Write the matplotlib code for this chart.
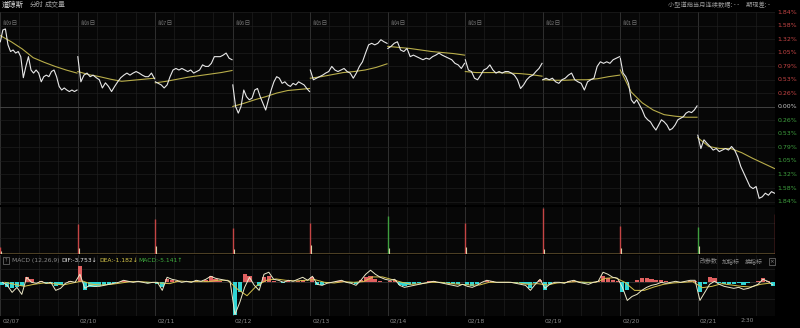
import numpy as np
import matplotlib
matplotlib.use('Agg')
import matplotlib.pyplot as plt
from matplotlib import transforms

plt.rcParams['font.family'] = ['Noto Sans CJK SC', 'DejaVu Sans']

# ---------------- data ----------------
day_labels = ['前9日', '前8日', '前7日', '前6日', '前5日', '前4日', '前3日', '前2日', '前1日']
date_labels = ['02/07', '02/10', '02/11', '02/12', '02/13', '02/14', '02/18', '02/19', '02/20', '02/21']
extra_time_label = '2:30'
extra_time_pos = 9.55  # day index + fraction of session

# price change (%) per day
price_d0 = [1.27, 1.50, 1.52, 1.21, 1.08, 1.11, 1.05, 1.08, 0.98, 0.57, 0.79, 0.98, 0.72, 0.66, 0.72, 0.66,
            0.49, 0.59, 0.62, 0.59, 0.69, 0.72, 0.59, 0.40, 0.33, 0.37, 0.33, 0.30, 0.33, 0.30, 0.33]
price_d1 = [0.98, 0.49, 0.62, 0.66, 0.59, 0.62, 0.57, 0.53, 0.37, 0.47, 0.40, 0.30, 0.40, 0.49, 0.57, 0.62,
            0.66, 0.62, 0.66, 0.69, 0.66, 0.62, 0.59, 0.59, 0.66, 0.55]
price_d2 = [0.49, 0.46, 0.43, 0.37, 0.43, 0.59, 0.72, 0.75, 0.72, 0.75, 0.72, 0.69, 0.72, 0.66, 0.69, 0.72,
            0.82, 0.79, 0.79, 0.85, 0.98, 0.98, 0.98, 1.01, 1.05, 0.95, 0.92]
price_d3 = [0.43, 0.01, -0.12, 0.01, 0.33, 0.20, 0.14, 0.17, 0.33, 0.36, 0.20, 0.07, -0.06, 0.14, 0.33, 0.49,
            0.59, 0.56, 0.46, 0.49, 0.43, 0.40, 0.46, 0.43, 0.49, 0.46, 0.43, 0.36, 0.30]
price_d4 = [0.72, 0.53, 0.56, 0.59, 0.62, 0.66, 0.69, 0.79, 0.72, 0.69, 0.72, 0.75, 0.69, 0.66, 0.56, 0.66,
            0.79, 0.88, 1.05, 1.21, 1.24, 1.21, 1.24, 1.31, 1.27, 1.24]
price_d5 = [1.14, 1.18, 1.24, 1.27, 1.11, 1.08, 1.14, 0.98, 1.01, 0.98, 0.95, 0.92, 0.95, 0.93, 0.98, 1.01,
            1.05, 1.01, 0.98, 0.95, 0.92, 0.85, 0.82, 0.75, 0.85]
price_d6 = [0.92, 0.72, 0.69, 0.56, 0.53, 0.62, 0.72, 0.75, 0.82, 0.72, 0.66, 0.69, 0.66, 0.69, 0.69, 0.66,
            0.62, 0.53, 0.36, 0.43, 0.53, 0.59, 0.62, 0.69, 0.75, 0.85]
price_d7 = [0.53, 0.56, 0.53, 0.56, 0.49, 0.46, 0.53, 0.56, 0.62, 0.66, 0.53, 0.49, 0.46, 0.33, 0.49, 0.53,
            0.56, 0.79, 0.88, 0.85, 0.88, 0.85, 0.92, 0.95, 0.98]
price_d8 = [0.95, 0.66, 0.59, 0.46, 0.14, 0.07, 0.14, 0.04, -0.06, -0.19, -0.25, -0.29, -0.38, -0.45, -0.35,
            -0.25, -0.29, -0.35, -0.45, -0.42, -0.35, -0.25, -0.22, -0.19, -0.12, -0.09, -0.11, -0.06, 0.02]
price_d9 = [-0.55, -0.81, -0.64, -0.71, -0.77, -0.84, -0.81, -0.87, -0.84, -0.81, -0.84, -0.77, -0.84, -0.97,
            -1.16, -1.29, -1.42, -1.55, -1.59, -1.55, -1.78, -1.75, -1.68, -1.72, -1.65, -1.68]
prices = [price_d0, price_d1, price_d2, price_d3, price_d4, price_d5, price_d6, price_d7, price_d8, price_d9]

# average price line (%) per day
avg_d0 = [1.39, 1.27, 1.13, 0.96, 0.87, 0.79, 0.72, 0.66]
avg_d1 = [0.69, 0.63, 0.59, 0.54, 0.50, 0.52, 0.54, 0.56]
avg_d2 = [0.47, 0.50, 0.54, 0.58, 0.61, 0.64, 0.67, 0.71]
avg_d3 = [0.01, 0.07, 0.14, 0.20, 0.27, 0.32, 0.34, 0.36]
avg_d4 = [0.56, 0.59, 0.63, 0.67, 0.69, 0.72, 0.77, 0.84]
avg_d5 = [1.18, 1.16, 1.14, 1.11, 1.08, 1.06, 1.04, 1.01]
avg_d6 = [0.69, 0.67, 0.67, 0.67, 0.66, 0.65, 0.63, 0.60]
avg_d7 = [0.53, 0.52, 0.52, 0.53, 0.53, 0.55, 0.59, 0.62]
avg_d8 = [0.72, 0.29, 0.08, -0.06, -0.15, -0.18, -0.20, -0.20]
avg_d9 = [-0.60, -0.77, -0.81, -0.81, -0.89, -1.00, -1.10, -1.20]
avgs = [avg_d0, avg_d1, avg_d2, avg_d3, avg_d4, avg_d5, avg_d6, avg_d7, avg_d8, avg_d9]

# volume (opening minute of each day, second minute, and closing minute of last day)
vol_open = [0.7, 3.0, 3.5, 2.6, 3.1, 3.8, 3.1, 4.6, 2.8, 2.7]
vol_open_up = [True, True, True, True, True, False, True, True, True, False]
vol_second = [0.3, 0.6, 0.8, 0.5, 0.9, 0.6, 0.7, 0.5, 0.6, 0.8]
vol_last = 4.0

# MACD (16 samples per day)
dif = [0, -4.5, -15, -7.5, -18, 7.5, 0, -1.5, 1.5, -1.5, 0, -12, -9, -1.5, 1.5, 0,
       12, -9, -4.5, -6, -6, -4.5, -3, -1.5, 0, 3, 1.5, 0, 1.5, 0, -1.5, 0,
       0, -12, 7.5, 4.5, 3, 0, 1.5, 0, 3, 1.5, 4.5, 9, 6, 4.5, 3, 1.5,
       -48, -30, -7.5, 7.5, -4.5, -12, 12, 15, 4.5, 3, 0, 3, 1.5, 4.5, 7.5, 3,
       9, -3, -4.5, -1.5, 0, 1.5, 3, 0, -1.5, -4.5, 3, 12, 18, 12, 7.5, 4.5,
       3, 4.5, -4.5, -7.5, -6, -4.5, -3, -1.5, 0, 1.5, 0, -1.5, -3, -4.5, -6, -3,
       -6, -7.5, -4.5, 0, 3, 1.5, 0, 0, 0, 0, -1.5, -3, -4.5, -12, -3, 4.5,
       -9, -3, 0, 0, -1.5, 1.5, 3, 0, -1.5, -3, 0, 1.5, 15, 12, 7.5, 6,
       -7.5, -27, -21, -18, -12, -7.5, -4.5, -3, 0, -1.5, 0, 1.5, 0, 1.5, 3, 3,
       -27, -15, -3, 1.5, -3, -6, -7.5, -9, -7.5, -10.5, -9, -6, -3, 4.5, 1.5, -3.753]
macd_hist = [-4.5, -7.5, -9, -7.5, -6, 7.5, 4.5, 0, 1.5, -1.5, -1.5, -6, -4.5, 0, 1.5, 0,
             25, -12, -7.5, -7.5, -6, -4.5, -3, -1.5, 0, 1.5, 1.5, 0, 0, 0, -1.5, 0,
             -3, -7.5, 4.5, 3, 1.5, 0, 0, 0, 1.5, 0, 3, 9, 4.5, 1.5, 0, 0,
             -49, -15, 12, 9, 0, -6, 7.5, 9, 1.5, 0, -1.5, 1.5, 0, 1.5, 3, 0,
             7.5, -4.5, -4.5, -1.5, 0, 1.5, 1.5, 0, -1.5, -3, 3, 7.5, 9, 4.5, 1.5, 0,
             1.5, 3, -4.5, -6, -4.5, -3, -1.5, 0, 1.5, 1.5, 0, -1.5, -1.5, -3, -3, 0,
             -4.5, -6, -3, 0, 1.5, 1.5, 0, 0, 0, 0, -1.5, -1.5, -3, -9, -1.5, 3,
             -12, -3, 0, 0, -1.5, 1.5, 1.5, 0, -1.5, -1.5, 0, 1.5, 9, 6, 3, 1.5,
             -15, -12, 0, 3, 6, 6, 4.5, 3, 3, 1.5, 0, 0, 0, 0, 1.5, 1.5,
             -15, -3, 7.5, 6, -1.5, -3, -3, -3, -1.5, -4.5, -1.5, 0, 1.5, 6, 1.5, -5.141]
# DEA (8 samples per day)
dea = [0, -3, -6, -3, -1, -2, -4, -1,
       2, -3, -4, -3, -1, 1, 1, 0,
       -1, -2, 2, 1, 1, 1, 3, 3,
       -10, -20, -5, 3, 5, 3, 2, 3,
       4, 0, -1, 1, 0, 1, 8, 8,
       4, 0, -3, -2, 0, 0, -2, -3,
       -4, -4, 0, 0, 0, -1, -3, -2,
       -4, -1, 0, 1, 0, 0, 6, 7,
       0, -12, -12, -7, -3, -1, 0, 1,
       -8, -6, -2, -4, -6, -7, -3, -1.182]

n_days = 10

# ---------------- styling ----------------
BG = '#000000'
PANEL = '#070707'
GRID = '#222222'
DAYSEP = '#363636'
PRICE_C = '#e8e8e8'
AVG_C = '#b8ad4a'
RED = '#c54545'
GREEN = '#3f9f3f'

W, H = 800, 328
fig = plt.figure(figsize=(W / 100, H / 100), dpi=100, facecolor=BG)


def px_axes(x0, y0, x1, y1):
    a = fig.add_axes([x0 / W, 1 - y1 / H, (x1 - x0) / W, (y1 - y0) / H])
    a.set_facecolor(PANEL)
    for s in a.spines.values():
        s.set_visible(False)
    a.set_xticks([])
    a.set_yticks([])
    a.set_xlim(0, n_days)
    return a


def vgrid(a, sub=4):
    for d in range(n_days + 1):
        a.axvline(d, color=DAYSEP, lw=0.6, zorder=0)
        if d < n_days:
            for k in range(1, sub):
                a.axvline(d + k / sub, color=GRID, lw=0.4, zorder=0)


# ---- main price panel ----
ax = px_axes(0, 12, 775, 205)
ax.set_ylim(-1.91, 1.85)
vgrid(ax)
step = 1.842 / 7
levels = np.arange(-7, 8) * step
for lv in levels:
    ax.axhline(lv, color='#4a4a4a' if abs(lv) < 1e-9 else GRID, lw=0.6 if abs(lv) < 1e-9 else 0.4, zorder=0)

for d in range(n_days):
    p = prices[d]
    xs = d + 0.004 + np.arange(len(p)) / (len(p) - 1) * 0.99
    ax.plot(xs, p, color=PRICE_C, lw=0.8, zorder=3)
    a_ = avgs[d]
    xa = d + 0.004 + np.arange(len(a_)) / (len(a_) - 1) * 0.99
    ax.plot(xa, a_, color=AVG_C, lw=0.8, zorder=2)

for d, lab in enumerate(day_labels):
    ax.text(d + 0.035, 1.62, lab, color='#6f6f6f', fontsize=4.3, va='center', ha='left')

# right tick labels
for lv in levels:
    if lv > 1e-9:
        c = RED
    elif lv < -1e-9:
        c = GREEN
    else:
        c = '#c8c8c8'
    ax.text(1.003, lv, f'{abs(lv):.2f}%', transform=transforms.blended_transform_factory(ax.transAxes, ax.transData),
            color=c, fontsize=4.5, va='center', ha='left', family='DejaVu Sans')

# ---- volume panel ----
axv = px_axes(0, 207, 775, 254)
axv.set_ylim(0, 4.75)
vgrid(axv)
for lv in [1.58, 3.16]:
    axv.axhline(lv, color=GRID, lw=0.4, zorder=0)
for d in range(n_days):
    c = RED if vol_open_up[d] else GREEN
    axv.vlines(d + 0.006, 0, vol_open[d], color=c, lw=1.0, zorder=3)
    axv.vlines(d + 0.018, 0, vol_second[d], color='#d8d2a8', lw=0.8, zorder=3)
axv.vlines(n_days - 0.006, 0, vol_last, color=RED, lw=1.0, zorder=3)
axv.axhline(0.08, color='#5a4a2a', lw=0.6, zorder=2)

# ---- MACD panel ----
axm = px_axes(0, 255, 775, 316)
axm.set_ylim(-50.2, 40.7)
vgrid(axm)
for lv in [-25, 0, 20]:
    axm.axhline(lv, color='#3a3a3a' if lv == 0 else GRID, lw=0.5, zorder=0)
xm = np.arange(len(dif)) / 16 + 1 / 32
hist = np.array(macd_hist)
axm.bar(xm, hist, width=1 / 16 * 0.85, color=np.where(hist >= 0, '#e06060', '#30d5d5'), zorder=2)
axm.plot(xm, dif, color='#ece8c8', lw=0.7, zorder=4)
xd = np.arange(len(dea)) / 8 + 1 / 16
axm.plot(xd, dea, color='#d6c24a', lw=0.7, zorder=3)

# header of MACD
fig.patches.append(plt.Rectangle((3 / W, 1 - 264 / H), 6 / W, 7 / H, transform=fig.transFigure,
                                 fill=False, edgecolor='#777777', lw=0.5))
fig.text(6 / W, 1 - 260.5 / H, '?', color='#888888', fontsize=3.8, ha='center', va='center')
fig.text(12 / W, 1 - 260.5 / H, 'MACD (12,26,9)', color='#8a8a8a', fontsize=4.3, va='center', family='DejaVu Sans')
fig.text(61 / W, 1 - 260.5 / H, 'DIF:-3.753↓', color='#e8e8e8', fontsize=4.3, va='center', family='DejaVu Sans')
fig.text(99 / W, 1 - 260.5 / H, 'DEA:-1.182↓', color='#d8c84a', fontsize=4.3, va='center', family='DejaVu Sans')
fig.text(138 / W, 1 - 260.5 / H, 'MACD:-5.141↑', color='#3faf3f', fontsize=4.3, va='center', family='DejaVu Sans')
for xx, s in [(700, '改参数'), (722, '加指标'), (745, '换指标')]:
    fig.text(xx / W, 1 - 261 / H, s, color='#8a8a8a', fontsize=4.3, va='center')
fig.patches.append(plt.Rectangle((769 / W, 1 - 265 / H), 6 / W, 7 / H, transform=fig.transFigure,
                                 fill=False, edgecolor='#777777', lw=0.5))
fig.text(772 / W, 1 - 261.5 / H, '×', color='#888888', fontsize=4, ha='center', va='center', family='DejaVu Sans')

# date labels
bt = transforms.blended_transform_factory(axm.transData, fig.transFigure)
for d, lab in enumerate(date_labels):
    fig.text(d + 0.03, 1 - 321 / H, lab, transform=bt, color='#8a8a8a', fontsize=4.3, va='center', ha='left',
             family='DejaVu Sans')
fig.text(extra_time_pos, 1 - 321 / H, extra_time_label, transform=bt, color='#8a8a8a', fontsize=4.3,
         va='center', ha='left', family='DejaVu Sans')

# top header
fig.text(2 / W, 1 - 4.5 / H, '道琼斯', color='#e0e0e0', fontsize=5.3, va='center')
fig.text(30 / W, 1 - 4.5 / H, '分时', color='#a0a0a0', fontsize=5.0, va='center')
fig.text(45 / W, 1 - 4.5 / H, '成交量', color='#a0a0a0', fontsize=5.0, va='center')
fig.text(668 / W, 1 - 5 / H, '小型道指当月连续数据: - -', color='#9a9a9a', fontsize=4.5, va='center')
fig.text(746 / W, 1 - 5 / H, '期现差: -', color='#9a9a9a', fontsize=4.5, va='center')

fig.savefig('out.png', dpi=100, facecolor=BG)
